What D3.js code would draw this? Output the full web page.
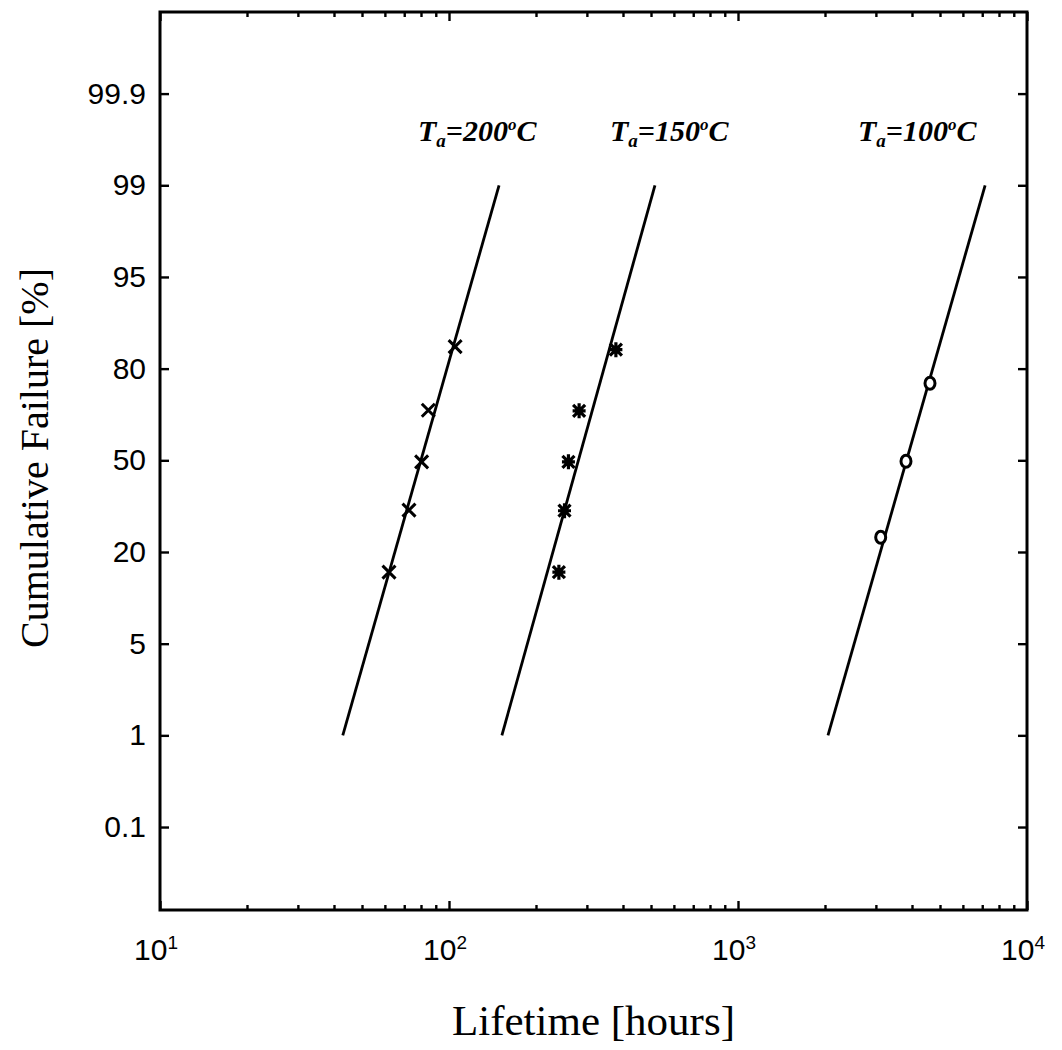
<!DOCTYPE html>
<html>
<head>
<meta charset="utf-8">
<script src="https://cdn.jsdelivr.net/npm/d3@7"></script>
<style>
  html, body { margin: 0; padding: 0; background: #fff; }
  svg { display: block; }
</style>
</head>
<body>
<svg id="chart" width="1062" height="1050"></svg>
<script>
// ---------- data ----------
const yTickValues = [0.1, 1, 5, 20, 50, 80, 95, 99, 99.9];
const yTickLabels = ["0.1", "1", "5", "20", "50", "80", "95", "99", "99.9"];
const xTickValues = [10, 100, 1000, 10000];
const xTickExponents = ["1", "2", "3", "4"];

const seriesNames = ["200", "150", "100"];
// lifetime [hours], cumulative failure [%]
const points200 = [[62.0, 16.7], [72.7, 33.7], [80.4, 49.5], [84.8, 66.4], [105, 83.6]];
const points150 = [[240, 16.7], [251, 33.5], [259, 49.5], [282, 66.2], [378, 83.1]];
const points100 = [[3117, 24.8], [3813, 49.7], [4617, 75.2]];
// fitted lines (from 1% to 99%)
const fit200 = [[42.9, 1], [149, 99]];
const fit150 = [[152.4, 1], [516, 99]];
const fit100 = [[2048, 1], [7163, 99]];
const titleX = [418, 610, 858]; // layout positions of annotation labels

(function () {
// ---------- layout ----------
const svg = d3.select("#chart");
const mLeft = 160, mRight = 1027, mTop = 12, mBottom = 910;

const x = d3.scaleLog().domain([10, 10000]).range([mLeft, mRight]);
const yIdx = d3.scaleLinear().domain([-0.905, 8.89]).range([mBottom, mTop]);
const y = d3.scaleLinear().domain(yTickValues).range(yTickValues.map((_, i) => yIdx(i)));

const black = "#000";

// minor ticks for x
const minor = [];
for (let e = 1; e < 4; e++) for (let m = 2; m <= 9; m++) minor.push(m * Math.pow(10, e));

const g = svg.append("g");

// bottom axis (inward ticks)
const gB = g.append("g").attr("transform", `translate(0,${mBottom})`)
  .call(d3.axisBottom(x).tickValues(xTickValues).tickSize(-9).tickFormat(""));
const gBm = g.append("g").attr("transform", `translate(0,${mBottom})`)
  .call(d3.axisBottom(x).tickValues(minor).tickSize(-5).tickFormat(""));
// top axis
const gT = g.append("g").attr("transform", `translate(0,${mTop})`)
  .call(d3.axisTop(x).tickValues(xTickValues).tickSize(-9).tickFormat(""));
const gTm = g.append("g").attr("transform", `translate(0,${mTop})`)
  .call(d3.axisTop(x).tickValues(minor).tickSize(-5).tickFormat(""));
// left axis
const gL = g.append("g").attr("transform", `translate(${mLeft},0)`)
  .call(d3.axisLeft(y).tickValues(yTickValues).tickSize(-9).tickPadding(14)
    .tickFormat((d, i) => yTickLabels[i]));
// right axis
const gR = g.append("g").attr("transform", `translate(${mRight},0)`)
  .call(d3.axisRight(y).tickValues(yTickValues).tickSize(-9).tickFormat(""));

[gB, gBm, gT, gTm, gL, gR].forEach(a => {
  a.select(".domain").remove();
  a.selectAll(".tick line").attr("stroke", black).attr("stroke-width", 2.4);
});
gL.selectAll(".tick text")
  .attr("font-family", "Liberation Sans, Arial, sans-serif")
  .attr("font-size", 30).attr("fill", black);

// x tick labels with superscripts
const xl = g.append("g");
xTickValues.forEach((v, i) => {
  const t = xl.append("text")
    .attr("x", x(v) - 4).attr("y", 960)
    .attr("text-anchor", "middle")
    .attr("font-family", "Liberation Sans, Arial, sans-serif")
    .attr("font-size", 30).attr("fill", black);
  t.append("tspan").text("10");
  t.append("tspan").attr("font-size", 19).attr("dy", -11).text(xTickExponents[i]);
});

// frame
g.append("rect")
  .attr("x", mLeft).attr("y", mTop)
  .attr("width", mRight - mLeft).attr("height", mBottom - mTop)
  .attr("fill", "none").attr("stroke", black).attr("stroke-width", 3);

// fit lines
const line = d3.line().x(d => x(d[0])).y(d => y(d[1]));
[fit200, fit150, fit100].forEach(f => {
  g.append("path").attr("d", line(f))
    .attr("fill", "none").attr("stroke", black).attr("stroke-width", 2.8);
});

// markers
const s = 6.5;
const gm = g.append("g").attr("stroke", black).attr("stroke-linecap", "butt");
points200.forEach(p => {
  const cx = x(p[0]), cy = y(p[1]);
  gm.append("path")
    .attr("d", `M${cx - s},${cy - s}L${cx + s},${cy + s}M${cx - s},${cy + s}L${cx + s},${cy - s}`)
    .attr("stroke-width", 3).attr("fill", "none");
});
points150.forEach(p => {
  const cx = x(p[0]), cy = y(p[1]);
  const a = 6, b = 7.5;
  gm.append("path")
    .attr("d", `M${cx - a},${cy - a}L${cx + a},${cy + a}M${cx - a},${cy + a}L${cx + a},${cy - a}` +
               `M${cx - b + 1},${cy}L${cx + b - 1},${cy}M${cx},${cy - b}L${cx},${cy + b}`)
    .attr("stroke-width", 3.2).attr("fill", "none");
  gm.append("circle").attr("cx", cx).attr("cy", cy).attr("r", 4).attr("fill", black).attr("stroke", "none");
});
points100.forEach(p => {
  gm.append("ellipse")
    .attr("cx", x(p[0])).attr("cy", y(p[1])).attr("rx", 5).attr("ry", 6)
    .attr("fill", "#fff").attr("stroke-width", 3);
});

// annotations
seriesNames.forEach((n, i) => {
  const t = g.append("text")
    .attr("x", titleX[i]).attr("y", 141)
    .attr("font-family", "Liberation Serif, Times New Roman, serif")
    .attr("font-style", "italic").attr("font-weight", "bold")
    .attr("font-size", 30).attr("fill", black);
  t.append("tspan").text("T");
  t.append("tspan").attr("font-size", 19).attr("dy", 6).text("a");
  t.append("tspan").attr("dy", -6).text("=" + n);
  t.append("tspan").attr("font-size", 17).attr("dy", -11).text("o");
  t.append("tspan").attr("dy", 11).text("C");
});

// axis titles
g.append("text")
  .attr("x", (mLeft + mRight) / 2).attr("y", 1035)
  .attr("text-anchor", "middle")
  .attr("font-family", "Liberation Serif, Times New Roman, serif")
  .attr("font-size", 43).attr("fill", black)
  .text("Lifetime [hours]");

g.append("text")
  .attr("transform", `translate(48,458) rotate(-90)`)
  .attr("text-anchor", "middle")
  .attr("font-family", "Liberation Serif, Times New Roman, serif")
  .attr("font-size", 40).attr("fill", black)
  .text("Cumulative Failure [%]");
})();
</script>
</body>
</html>
